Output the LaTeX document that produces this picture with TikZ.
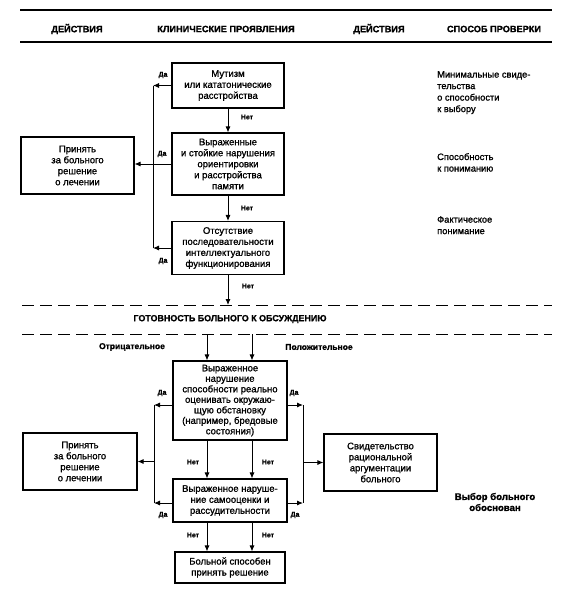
\documentclass[tikz,border=0pt]{standalone}
\usepackage{fontspec}
\setmainfont{Liberation Sans}
\newfontfamily\bodyfont{Liberation Sans}[RawFeature={embolden=1.2}]
\newfontfamily\hdrfont{Liberation Sans Bold}[RawFeature={embolden=1.2}]
\usetikzlibrary{arrows.meta,calc}
\tikzset{
  box/.style={draw, line width=1.1pt, align=center, inner sep=0pt,
    font=\bodyfont\fontsize{9.5}{11}\selectfont, anchor=center},
  arr/.style={line width=0.9pt, -{Latex[length=6pt,width=5pt]}},
  ln/.style={line width=0.9pt},
  lbl/.style={font=\hdrfont\fontsize{7}{8}\selectfont, inner sep=0pt},
  hdr/.style={font=\hdrfont\fontsize{9.2}{10}\selectfont, inner sep=0pt},
  side/.style={font=\bodyfont\fontsize{9.3}{11.5}\selectfont, align=left, inner sep=0pt, anchor=north west},
  rule/.style={line width=1.2pt},
  dline/.style={line width=1pt, dash pattern=on 12pt off 6pt}
}
\begin{document}
\begin{tikzpicture}[x=1pt,y=-1pt]
\useasboundingbox (0,0) rectangle (564,594);
% header
\coordinate (r1a) at (20,10); \coordinate (r1b) at (552,10);
\coordinate (r2a) at (20,42); \coordinate (r2b) at (552,42);
\draw[rule] (r1a) -- (r1b);
\draw[rule] (r2a) -- (r2b);
\node[hdr] (h1) at (77,29) {ДЕЙСТВИЯ};
\node[hdr] (h2) at (226,29) {КЛИНИЧЕСКИЕ ПРОЯВЛЕНИЯ};
\node[hdr] (h3) at (379,29) {ДЕЙСТВИЯ};
\node[hdr] (h4) at (494,29) {СПОСОБ ПРОВЕРКИ};
% upper boxes
\node[box, minimum width=112pt, minimum height=45pt] (b1) at (228,85.5) {Мутизм\\или кататонические\\расстройства};
\node[box, minimum width=112pt, minimum height=62pt] (b2) at (228,164) {Выраженные\\и стойкие нарушения\\ориентировки\\и расстройства\\памяти};
\node[box, minimum width=112pt, minimum height=53pt] (b3) at (228,248) {Отсутствие\\последовательности\\интеллектуального\\функционирования};
\node[box, minimum width=113pt, minimum height=57pt] (l1) at (77.5,165.5) {Принять\\за больного\\решение\\о лечении};
% side texts
\node[side] (s1) at (437,71) {Минимальные свиде-\\тельства\\о способности\\к выбору};
\node[side] (s2) at (437,153) {Способность\\к пониманию};
\node[side] (s3) at (437,216) {Фактическое\\понимание};
% upper bus
\coordinate (ubx) at (153,0);
\coordinate (ubt) at (b1.west -| ubx);
\coordinate (ubb) at (b3.west -| ubx);
\draw[ln] (ubt) -- (ubb);
\draw[arr] (b1.west) -- (ubt);
\draw[arr] (b2.west) -- (b2.west -| l1.east);
\draw[arr] (b3.west) -- (ubb);
\node[lbl] (d1) at (163,75) {Да};
\node[lbl] (d2) at (162,154) {Да};
\node[lbl] (d3) at (163,261) {Да};
\draw[arr] (b1.south) -- (b2.north);
\draw[arr] (b2.south) -- (b3.north);
\node[lbl] (n1) at (247,117) {Нет};
\node[lbl] (n2) at (247,208) {Нет};
\node[lbl] (n3) at (248,286) {Нет};
% dashed lines
\coordinate (da1) at (22,305); \coordinate (db1) at (552,305);
\coordinate (da2) at (22,334); \coordinate (db2) at (552,334);
\draw[dline] (da1) -- (db1);
\draw[dline] (da2) -- (db2);
\coordinate (b3end) at (b3.south |- da1);
\draw[arr] (b3.south) -- (b3end);
\node[hdr, font=\hdrfont\fontsize{8.9}{10}\selectfont] (title) at (230,319) {ГОТОВНОСТЬ БОЛЬНОГО К ОБСУЖДЕНИЮ};
\node[hdr, font=\hdrfont\fontsize{8.5}{10}\selectfont] (neg) at (132,347) {Отрицательное};
\node[hdr, font=\hdrfont\fontsize{8.5}{10}\selectfont] (pos) at (319,347) {Положительное};
% lower boxes
\node[box, font=\bodyfont\fontsize{9.5}{10.5}\selectfont, minimum width=114pt, minimum height=79pt] (b4) at (230,400.5) {Выраженное\\нарушение\\способности реально\\оценивать окружаю-\\щую обстановку\\(например, бредовые\\состояния)};
\node[box, minimum width=114pt, minimum height=43pt] (b5) at (230,500.5) {Выраженное наруше-\\ние самооценки и\\рассудительности};
\node[box, minimum width=110pt, minimum height=31pt] (b6) at (230,567.5) {Больной способен\\принять решение};
\node[box, minimum width=114pt, minimum height=57pt] (l2) at (80,461.5) {Принять\\за больного\\решение\\о лечении};
\node[box, minimum width=113pt, minimum height=57pt] (rb) at (380.5,462.5) {Свидетельство\\рациональной\\аргументации\\больного};
\node[hdr, align=center, font=\hdrfont\fontsize{9.6}{11}\selectfont] (res) at (495,502) {Выбор больного\\обоснован};
% arrows into b4
\coordinate (xa) at (207,0); \coordinate (xb) at (252,0);
\draw[arr] (xa |- da2) -- (xa |- b4.north);
\draw[arr] (xb |- da2) -- (xb |- b4.north);
% buses
\coordinate (lbx) at (154,0); \coordinate (rbx) at (303,0);
\coordinate (y4) at (0,405); \coordinate (y5) at (0,503);
\coordinate (lbt) at (lbx |- y4); \coordinate (lbb) at (lbx |- y5);
\coordinate (rbt) at (rbx |- y4); \coordinate (rbb) at (rbx |- y5);
\draw[ln] (lbt) -- (lbb);
\draw[ln] (rbt) -- (rbb);
\draw[arr] (b4.west |- y4) -- (lbt);
\draw[arr] (b4.east |- y4) -- (rbt);
\draw[arr] (b5.west |- y5) -- (lbb);
\draw[arr] (b5.east |- y5) -- (rbb);
\draw[arr] (l2.east -| lbx) -- (l2.east);
\draw[arr] (rb.west -| rbx) -- (rb.west);
\node[lbl] (d4) at (162,393) {Да};
\node[lbl] (d5) at (294,393) {Да};
\node[lbl] (d6) at (163,515) {Да};
\node[lbl] (d7) at (295,515) {Да};
% b4 -> b5 -> b6
\draw[arr] (xa |- b4.south) -- (xa |- b5.north);
\draw[arr] (xb |- b4.south) -- (xb |- b5.north);
\draw[arr] (xa |- b5.south) -- (xa |- b6.north);
\draw[arr] (xb |- b5.south) -- (xb |- b6.north);
\node[lbl] (n4) at (193,462) {Нет};
\node[lbl] (n5) at (268,462) {Нет};
\node[lbl] (n6) at (193,535) {Нет};
\node[lbl] (n7) at (268,535) {Нет};
\end{tikzpicture}
\end{document}
